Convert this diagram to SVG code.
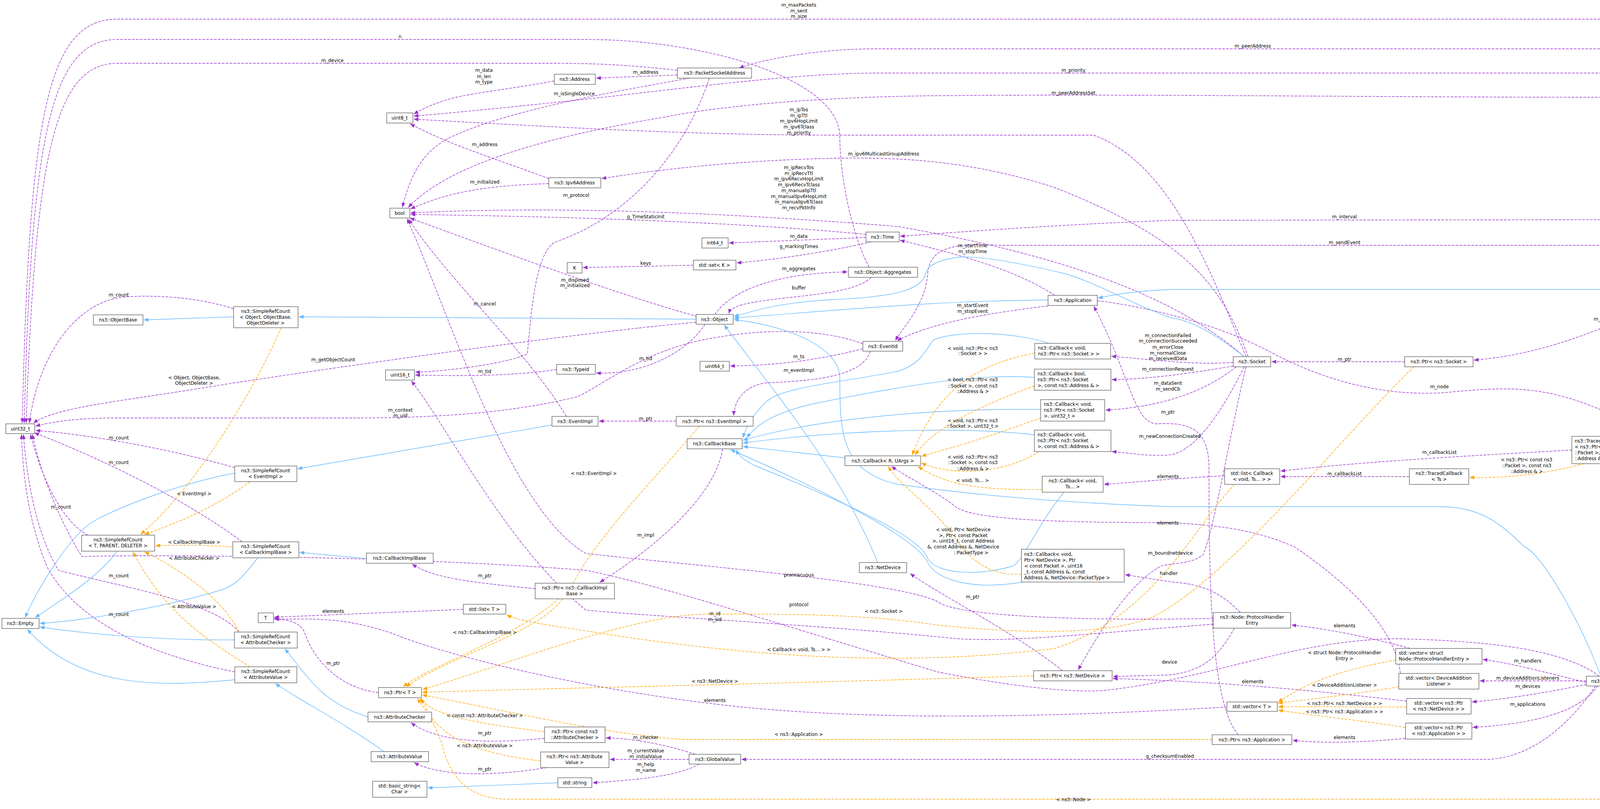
<svg xmlns="http://www.w3.org/2000/svg" width="4491" height="2071" viewBox="0 0 4491 2071">
<style>
text{font-family:"DejaVu Sans","Liberation Sans",Arial,sans-serif;font-size:12px;fill:#000}
.n rect{fill:#fff;stroke:#666;stroke-width:1.4}
.n text,.l{text-anchor:middle}
.n .la{text-anchor:start}
.p,.o,.b{fill:none;stroke-width:1.4}
.p{stroke:#9a32cd;stroke-dasharray:7,3;marker-end:url(#mp)}
.o{stroke:#ffa500;stroke-dasharray:7,3;marker-end:url(#mo)}
.b{stroke:#63b8ff;marker-end:url(#mb)}
</style>
<defs>
<marker id="mp" markerUnits="userSpaceOnUse" markerWidth="12" markerHeight="10" refX="12" refY="5" orient="auto"><path d="M0,0 L12,5 L0,10 z" fill="#9a32cd"/></marker>
<marker id="mo" markerUnits="userSpaceOnUse" markerWidth="12" markerHeight="10" refX="12" refY="5" orient="auto"><path d="M0,0 L12,5 L0,10 z" fill="#ffa500"/></marker>
<marker id="mb" markerUnits="userSpaceOnUse" markerWidth="12" markerHeight="10" refX="12" refY="5" orient="auto"><path d="M0,0 L12,5 L0,10 z" fill="#63b8ff"/></marker>
</defs>
<rect width="4491" height="2071" fill="#fff"/>
<g id="connectors">
<path class="p" d="M4400,549 C4390,250 4340,49 4130,49 L300,49 C120,49 75,300 57,1083"/>
<path class="p" d="M2225,684 C2180,600 2150,450 2150,350 C2150,200 1800,101 1500,101 L300,101 C130,101 80,350 62,1083"/>
<path class="p" d="M1734,180 C1600,165 1520,162 1400,162 L300,162 C140,162 90,400 67,1083"/>
<path class="p" d="M4410,549 C4400,300 4330,125 4200,125 L2240,125 C2100,125 1960,150 1892,174"/>
<path class="p" d="M4390,549 C4370,350 4300,187 4120,187 L2250,187 C2050,187 1800,220 1500,254 C1300,275 1150,290 1059,297"/>
<path class="p" d="M4380,549 C4360,400 4300,249 4120,249 C3500,249 2900,240 2400,245 C2100,248 1850,270 1700,300 C1400,350 1150,420 1045,531"/>
<path class="p" d="M3190,913 C3100,700 3000,420 2800,346 L2150,346 C1800,346 1500,330 1059,305"/>
<path class="p" d="M3195,913 C3120,700 3000,600 2700,480 C2450,400 2250,398 2000,410 C1800,420 1650,440 1540,457"/>
<path class="p" d="M3185,913 C3000,750 2700,650 2300,580 C1800,540 1400,528 1051,545"/>
<path class="p" d="M2217,600 C1900,570 1500,555 1051,549"/>
<path class="p" d="M2217,608 L1866,622"/>
<path class="p" d="M2230,619 C2100,650 1950,668 1886,673"/>
<path class="p" d="M1775,679 L1492,685"/>
<path class="p" d="M1830,805 C1860,760 1950,700 2170,696"/>
<path class="p" d="M2230,710 C2180,760 2000,755 1900,780 C1870,790 1868,795 1866,803"/>
<path class="p" d="M4307,562 L3000,564 C2700,575 2400,598 2304,605"/>
<path class="p" d="M4365,575 C4320,600 4250,628 4130,628 L2560,628 C2450,622 2380,630 2375,700 C2370,780 2310,840 2292,872"/>
<path class="p" d="M2700,756 C2600,690 2450,650 2304,615"/>
<path class="p" d="M2683,783 C2550,800 2400,820 2296,872"/>
<path class="p" d="M4360,575 C4345,700 4200,800 4100,840 C3950,900 3850,915 3773,922"/>
<path class="p" d="M4395,575 C4380,700 4300,850 4142,1113"/>
<path class="p" d="M2809,770 C2900,780 3100,820 3250,900 C3400,980 3550,1015 3700,1005 C3850,990 3950,985 4100,1050 C4300,1150 4380,1500 4393,1729"/>
<path class="p" d="M3157,928 C3050,935 2950,920 2845,912"/>
<path class="p" d="M3157,937 C3050,955 2950,970 2846,972"/>
<path class="p" d="M3165,939 C3100,990 3000,1040 2830,1050"/>
<path class="p" d="M3185,939 C3130,1050 3060,1160 2990,1165 C2930,1168 2900,1160 2846,1156"/>
<path class="p" d="M3170,1881 C3100,1800 3095,1500 3095,1200 C3095,1100 3050,1080 2960,1085 C2900,1080 2890,950 2800,784"/>
<path class="p" d="M3190,939 C3150,1100 3110,1350 3080,1420 C3050,1445 3000,1440 2970,1450 C2940,1470 2880,1500 2760,1715"/>
<path class="p" d="M3175,1568 C3130,1520 3080,1495 3000,1490 L2880,1471"/>
<path class="p" d="M3160,1608 C3120,1680 3080,1720 2990,1728 L2849,1732"/>
<path class="p" d="M3601,1795 C3300,1760 3100,1745 2849,1737"/>
<path class="p" d="M3106,1583 C2800,1590 2450,1580 2400,1540 C2300,1490 1800,1450 1500,1417 C1300,1300 1150,800 1042,560"/>
<path class="p" d="M3106,1598 C2800,1620 2600,1645 2450,1635 C2100,1600 1700,1580 1500,1562 C1300,1400 1150,1100 1053,975"/>
<path class="p" d="M4094,1731 C4000,1660 3800,1640 3570,1635 C3300,1640 3100,1740 2820,1768 C2700,1775 2500,1740 2400,1720 C2000,1600 1700,1500 1500,1460 C1000,1420 300,1420 210,1425 C150,1330 100,1200 83,1112"/>
<path class="p" d="M3141,1810 C2800,1830 2300,1850 1900,1810 C1600,1780 1200,1700 1000,1620 C850,1570 760,1590 702,1583"/>
<path class="p" d="M1186,1560 L702,1580"/>
<path class="p" d="M969,1773 C860,1760 800,1680 780,1620 C770,1595 740,1585 702,1585"/>
<path class="p" d="M1370,1507 C1200,1490 1110,1480 1055,1444"/>
<path class="p" d="M1394,1890 C1250,1905 1120,1900 1052,1850"/>
<path class="p" d="M1400,1965 C1250,1990 1120,1985 1060,1952"/>
<path class="p" d="M1780,1931 C1700,1905 1620,1890 1551,1889"/>
<path class="p" d="M1764,1944 L1561,1944"/>
<path class="p" d="M1790,1956 C1740,1985 1650,1995 1517,2004"/>
<path class="p" d="M4085,1756 C4000,1880 3900,1944 3800,1944 L1898,1944"/>
<path class="p" d="M4313,1743 L4150,1743"/>
<path class="p" d="M4061,1747 C3950,1720 3880,1700 3796,1688"/>
<path class="p" d="M4061,1743 L3788,1743"/>
<path class="p" d="M4061,1752 C3950,1775 3850,1790 3768,1797"/>
<path class="p" d="M4090,1756 C4040,1830 3900,1855 3770,1862"/>
<path class="p" d="M3610,1660 C3500,1630 3400,1610 3306,1600"/>
<path class="p" d="M3598,1890 C3450,1905 3350,1900 3309,1895"/>
<path class="p" d="M1731,1078 L1533,1078"/>
<path class="p" d="M2228,899 C2210,960 2100,975 1960,980 C1900,990 1880,1030 1878,1064"/>
<path class="p" d="M2209,893 C2100,920 2000,935 1869,937"/>
<path class="p" d="M1450,1066 C1350,900 1150,720 1046,561"/>
<path class="p" d="M1785,810 C1600,760 1300,650 1049,558"/>
<path class="p" d="M1805,830 C1760,900 1650,960 1526,955"/>
<path class="p" d="M1425,946 C1300,965 1150,962 1063,960"/>
<path class="p" d="M1816,200 C1750,400 1600,560 1420,620 C1370,650 1360,800 1350,906 C1300,930 1150,950 1063,953"/>
<path class="p" d="M1765,200 C1600,230 1300,280 1150,353 C1080,390 1050,450 1030,531"/>
<path class="p" d="M1734,192 L1526,200"/>
<path class="p" d="M1419,207 C1300,230 1180,240 1130,260 C1100,270 1080,280 1059,292"/>
<path class="p" d="M1405,457 C1250,400 1150,370 1050,317"/>
<path class="p" d="M1405,470 C1250,475 1150,490 1051,535"/>
<path class="p" d="M1782,825 C1500,850 1000,920 600,980 C300,1030 150,1040 85,1083"/>
<path class="p" d="M2209,880 C2100,840 1950,840 1800,870 C1650,900 1550,980 1480,1015 C1300,1060 1100,1070 900,1070 L290,1070 C200,1070 130,1080 91,1091"/>
<path class="p" d="M598,790 C500,760 400,755 320,760 C200,770 100,900 75,1083"/>
<path class="p" d="M601,1197 C400,1140 200,1110 91,1102"/>
<path class="p" d="M620,1387 C450,1260 200,1150 88,1108"/>
<path class="p" d="M225,1370 C150,1330 100,1200 78,1112"/>
<path class="p" d="M612,1618 C550,1540 300,1500 150,1460 C100,1380 70,1250 60,1112"/>
<path class="p" d="M601,1720 C400,1680 200,1600 120,1450 C80,1350 60,1250 55,1112"/>
<path class="p" d="M3135,1218 C3000,1225 2900,1235 2826,1240"/>
<path class="p" d="M3585,1724 C3570,1600 3440,1486 3314,1400 C3200,1350 3100,1345 3000,1338 C2700,1338 2500,1330 2450,1300 C2400,1260 2320,1220 2282,1194"/>
<path class="p" d="M4024,1152 C3800,1165 3500,1180 3278,1206"/>
<path class="p" d="M3608,1220 L3278,1220"/>
<path class="p" d="M2720,1717 C2600,1620 2400,1520 2330,1468"/>
<path class="p" d="M3596,926 L3255,926"/>
<path class="p" d="M1850,1149 C1830,1280 1650,1420 1535,1491"/>
<path class="b" d="M598,811 L368,819"/>
<path class="b" d="M1782,817 L765,811"/>
<path class="b" d="M2683,768 C2400,770 2200,790 1879,814"/>
<path class="b" d="M4384,575 C4330,680 4250,741 4108,741 L3000,741 C2900,745 2850,755 2811,763"/>
<path class="b" d="M3185,913 C3120,860 3050,820 3000,814 C2900,780 2800,720 2724,700 C2600,670 2500,655 2457,658 C2400,665 2375,680 2370,700 C2360,740 2300,760 2131,767 C2000,775 1950,790 1879,810"/>
<path class="b" d="M4098,1731 C4050,1600 3950,1420 3903,1400 C3850,1350 3800,1297 3685,1297 L3000,1297 C2800,1290 2552,1276 2300,1240 C2150,1209 2150,1100 2150,968 C2150,900 2050,840 1879,818"/>
<path class="b" d="M2247,1440 C2150,1200 1980,1000 1854,832"/>
<path class="b" d="M1413,1088 L762,1200"/>
<path class="b" d="M601,1211 C450,1240 300,1300 239,1335 C180,1370 100,1500 64,1581"/>
<path class="b" d="M300,1411 C250,1480 150,1540 90,1581"/>
<path class="b" d="M660,1428 C620,1480 600,1500 564,1511 C400,1560 200,1590 102,1596"/>
<path class="b" d="M938,1430 L767,1414"/>
<path class="b" d="M600,1638 C400,1640 200,1620 102,1605"/>
<path class="b" d="M601,1740 C400,1760 200,1760 70,1611"/>
<path class="b" d="M942,1835 C820,1800 780,1720 729,1661"/>
<path class="b" d="M983,1924 C880,1850 780,1800 705,1750"/>
<path class="b" d="M1428,2004 L1095,2017"/>
<path class="b" d="M2686,879 C2600,850 2450,845 2390,870 C2365,900 2360,930 2300,950 C2150,980 2000,990 1960,1030 C1930,1060 1910,1090 1902,1121"/>
<path class="b" d="M2648,966 C2500,955 2300,990 2100,1030 C2000,1050 1940,1080 1912,1121"/>
<path class="b" d="M2664,1048 C2400,1045 2100,1070 1902,1127"/>
<path class="b" d="M2648,1113 C2500,1095 2200,1095 1902,1134"/>
<path class="b" d="M2163,1172 L1902,1143"/>
<path class="b" d="M2724,1260 C2650,1350 2620,1440 2590,1450 C2500,1475 2400,1470 2375,1430 C2360,1380 2200,1300 1930,1191 C1900,1175 1890,1165 1885,1151"/>
<path class="b" d="M2619,1490 C2500,1510 2400,1490 2375,1440 C2350,1380 2100,1250 1870,1151"/>
<path class="o" d="M720,839 C650,1000 500,1250 360,1368"/>
<path class="o" d="M640,1233 C550,1300 450,1340 370,1368"/>
<path class="o" d="M596,1400 C520,1395 450,1395 398,1397"/>
<path class="o" d="M612,1618 C570,1530 450,1450 370,1413"/>
<path class="o" d="M640,1707 C500,1620 420,1560 340,1413"/>
<path class="o" d="M1440,1533 C1380,1620 1150,1680 1040,1758"/>
<path class="o" d="M1394,1873 C1200,1850 1110,1830 1075,1788"/>
<path class="o" d="M1384,1948 C1150,1920 1120,1860 1068,1788"/>
<path class="o" d="M1790,1091 C1700,1200 1550,1350 1480,1470 C1420,1600 1100,1700 1032,1758"/>
<path class="o" d="M3620,939 C3450,1100 3150,1480 2950,1580 C2800,1640 2500,1610 2400,1600 C2200,1570 2000,1572 1800,1572 C1600,1580 1300,1700 1082,1765"/>
<path class="o" d="M3160,1240 C3050,1360 2950,1580 2700,1660 C2300,1710 1900,1680 1500,1615 C1400,1600 1330,1590 1297,1574"/>
<path class="o" d="M2646,1730 C2000,1750 1500,1760 1081,1772"/>
<path class="o" d="M3103,1893 L1750,1893 C1550,1880 1300,1820 1081,1779"/>
<path class="o" d="M4380,1756 C4300,1950 4200,2046 4100,2046 L1300,2046 C1200,2046 1150,1990 1130,1900 C1110,1850 1090,1810 1078,1788"/>
<path class="o" d="M2649,904 C2450,940 2380,1050 2335,1165"/>
<path class="o" d="M2648,988 C2450,1060 2370,1120 2343,1165"/>
<path class="o" d="M2664,1070 C2500,1130 2420,1150 2359,1168"/>
<path class="o" d="M2660,1156 C2560,1220 2420,1215 2359,1185"/>
<path class="o" d="M2668,1253 C2500,1255 2420,1240 2350,1194"/>
<path class="o" d="M2615,1470 C2530,1475 2480,1430 2440,1370 C2380,1290 2300,1240 2274,1194"/>
<path class="o" d="M4055,1187 C3950,1215 3850,1225 3762,1222"/>
<path class="o" d="M3573,1690 C3400,1720 3330,1760 3272,1797"/>
<path class="o" d="M3581,1758 C3450,1780 3350,1790 3272,1800"/>
<path class="o" d="M3601,1810 L3272,1809"/>
<path class="o" d="M3598,1862 C3450,1840 3350,1830 3272,1818"/>
</g>
<g id="labels">
<text class="l" x="2045" y="17">m_maxPackets</text><text class="l" x="2045" y="32">m_sent</text><text class="l" x="2045" y="46">m_size</text>
<text class="l" x="1024" y="98">n</text>
<text class="l" x="851" y="159">m_device</text>
<text class="l" x="3207" y="122">m_peerAddress</text>
<text class="l" x="1239" y="184">m_data</text><text class="l" x="1239" y="200">m_len</text><text class="l" x="1239" y="214">m_type</text>
<text class="l" x="1653" y="189">m_address</text>
<text class="l" x="2748" y="184">m_priority</text>
<text class="l" x="1470" y="244">m_isSingleDevice</text>
<text class="l" x="2748" y="242">m_peerAddressSet</text>
<text class="l" x="2045" y="285">m_ipTos</text><text class="l" x="2045" y="300">m_ipTtl</text><text class="l" x="2045" y="314">m_ipv6HopLimit</text><text class="l" x="2045" y="329">m_ipv6Tclass</text><text class="l" x="2045" y="344">m_priority</text>
<text class="l" x="1241" y="374">m_address</text>
<text class="l" x="2262" y="398">m_ipv6MulticastGroupAddress</text>
<text class="l" x="2045" y="433">m_ipRecvTos</text><text class="l" x="2045" y="448">m_ipRecvTtl</text><text class="l" x="2045" y="462">m_ipv6RecvHopLimit</text><text class="l" x="2045" y="477">m_ipv6RecvTclass</text><text class="l" x="2045" y="492">m_manualIpTtl</text><text class="l" x="2045" y="507">m_manualIpv6HopLimit</text><text class="l" x="2045" y="521">m_manualIpv6Tclass</text><text class="l" x="2045" y="536">m_recvPktInfo</text>
<text class="l" x="1241" y="470">m_initialized</text>
<text class="l" x="1475" y="504">m_protocol</text>
<text class="l" x="1653" y="559">g_TimeStaticInit</text>
<text class="l" x="3442" y="559">m_interval</text>
<text class="l" x="2045" y="609">m_data</text>
<text class="l" x="3442" y="625">m_sendEvent</text>
<text class="l" x="2045" y="635">g_markingTimes</text>
<text class="l" x="2490" y="633">m_startTime</text><text class="l" x="2490" y="648">m_stopTime</text>
<text class="l" x="1653" y="678">keys</text>
<text class="l" x="2045" y="692">m_aggregates</text>
<text class="l" x="1472" y="721">m_disposed</text><text class="l" x="1472" y="735">m_initialized</text>
<text class="l" x="2045" y="741">buffer</text>
<text class="l" x="304" y="759">m_count</text>
<text class="l" x="1241" y="782">m_cancel</text>
<text class="l" x="2490" y="786">m_startEvent</text><text class="l" x="2490" y="801">m_stopEvent</text>
<text class="l" x="4108" y="821">m_socket</text>
<text class="l" x="2990" y="863">m_connectionFailed</text><text class="l" x="2990" y="877">m_connectionSucceeded</text><text class="l" x="2990" y="893">m_errorClose</text><text class="l" x="2990" y="908">m_normalClose</text><text class="l" x="2990" y="922">m_receivedData</text>
<text class="l" x="4249" y="889">m_txTrace</text>
<text class="l" x="2490" y="896">&lt; void, ns3::Ptr&lt; ns3</text><text class="l" x="2490" y="909">::Socket &gt; &gt;</text>
<text class="l" x="2045" y="917">m_ts</text>
<text class="l" x="1653" y="922">m_tid</text>
<text class="l" x="3442" y="924">m_ptr</text>
<text class="l" x="853" y="925">m_getObjectCount</text>
<text class="l" x="2990" y="949">m_connectionRequest</text>
<text class="l" x="2045" y="952">m_eventImpl</text>
<text class="l" x="1241" y="955">m_tid</text>
<text class="l" x="497" y="971">&lt; Object, ObjectBase,</text><text class="l" x="497" y="985">ObjectDeleter &gt;</text>
<text class="l" x="2490" y="976">&lt; bool, ns3::Ptr&lt; ns3</text><text class="l" x="2490" y="992">::Socket &gt;, const ns3</text><text class="l" x="2490" y="1006">::Address &amp; &gt;</text>
<text class="l" x="2990" y="985">m_dataSent</text><text class="l" x="2990" y="1000">m_sendCb</text>
<text class="l" x="3685" y="994">m_node</text>
<text class="l" x="1025" y="1054">m_context</text><text class="l" x="1025" y="1068">m_uid</text>
<text class="l" x="2990" y="1059">m_ptr</text>
<text class="l" x="1653" y="1076">m_ptr</text>
<text class="l" x="2490" y="1081">&lt; void, ns3::Ptr&lt; ns3</text><text class="l" x="2490" y="1095">::Socket &gt;, uint32_t &gt;</text>
<text class="l" x="2995" y="1121">m_newConnectionCreated</text>
<text class="l" x="304" y="1125">m_count</text>
<text class="l" x="3685" y="1162">m_callbackList</text>
<text class="l" x="2490" y="1174">&lt; void, ns3::Ptr&lt; ns3</text><text class="l" x="2490" y="1188">::Socket &gt;, const ns3</text><text class="l" x="2490" y="1204">::Address &amp; &gt;</text>
<text class="l" x="3908" y="1181">&lt; ns3::Ptr&lt; const ns3</text><text class="l" x="3908" y="1196">::Packet &gt;, const ns3</text><text class="l" x="3908" y="1211">::Address &amp; &gt;</text>
<text class="l" x="304" y="1188">m_count</text>
<text class="l" x="1520" y="1216">&lt; ns3::EventImpl &gt;</text>
<text class="l" x="3442" y="1217">m_callbackList</text>
<text class="l" x="2990" y="1224">elements</text>
<text class="l" x="2490" y="1234">&lt; void, Ts... &gt;</text>
<text class="l" x="497" y="1268">&lt; EventImpl &gt;</text>
<text class="l" x="156" y="1302">m_count</text>
<text class="l" x="2990" y="1343">elements</text>
<text class="l" x="2466" y="1360">&lt; void, Ptr&lt; NetDevice</text><text class="l" x="2466" y="1375">&gt;, Ptr&lt; const Packet</text><text class="l" x="2466" y="1389">&gt;, uint16_t, const Address</text><text class="l" x="2466" y="1404">&amp;, const Address &amp;, NetDevice</text><text class="l" x="2486" y="1419">::PacketType &gt;</text>
<text class="l" x="1653" y="1374">m_impl</text>
<text class="l" x="497" y="1392">&lt; CallbackImplBase &gt;</text>
<text class="l" x="2996" y="1420">m_boundnetdevice</text>
<text class="l" x="497" y="1433">&lt; AttributeChecker &gt;</text>
<text class="l" x="2992" y="1472">handler</text>
<text class="l" x="2045" y="1476">promiscuous</text>
<text class="l" x="304" y="1478">m_count</text>
<text class="l" x="1241" y="1478">m_ptr</text>
<text class="l" x="2490" y="1532">m_ptr</text>
<text class="l" x="2045" y="1552">protocol</text>
<text class="l" x="497" y="1557">&lt; AttributeValue &gt;</text>
<text class="l" x="853" y="1569">elements</text>
<text class="l" x="2262" y="1569">&lt; ns3::Socket &gt;</text>
<text class="l" x="1830" y="1575">m_id</text><text class="l" x="1830" y="1590">m_sid</text>
<text class="l" x="304" y="1577">m_count</text>
<text class="l" x="3442" y="1606">elements</text>
<text class="l" x="1241" y="1623">&lt; ns3::CallbackImplBase &gt;</text>
<text class="l" x="2045" y="1667">&lt; Callback&lt; void, Ts... &gt; &gt;</text>
<text class="l" x="3442" y="1675">&lt; struct Node::ProtocolHandler</text><text class="l" x="3442" y="1690">Entry &gt;</text>
<text class="l" x="3911" y="1696">m_handlers</text>
<text class="l" x="2994" y="1699">device</text>
<text class="l" x="853" y="1702">m_ptr</text>
<text class="l" x="3911" y="1740">m_deviceAdditionListeners</text>
<text class="l" x="4249" y="1740">m_ptr</text>
<text class="l" x="1830" y="1748">&lt; ns3::NetDevice &gt;</text>
<text class="l" x="3207" y="1749">elements</text>
<text class="l" x="3442" y="1758">&lt; DeviceAdditionListener &gt;</text>
<text class="l" x="3911" y="1761">m_devices</text>
<text class="l" x="1830" y="1797">elements</text>
<text class="l" x="3442" y="1805">&lt; ns3::Ptr&lt; ns3::NetDevice &gt; &gt;</text>
<text class="l" x="3911" y="1807">m_applications</text>
<text class="l" x="3442" y="1826">&lt; ns3::Ptr&lt; ns3::Application &gt; &gt;</text>
<text class="l" x="1241" y="1836">&lt; const ns3::AttributeChecker &gt;</text>
<text class="l" x="1241" y="1881">m_ptr</text>
<text class="l" x="2045" y="1884">&lt; ns3::Application &gt;</text>
<text class="l" x="1653" y="1892">m_checker</text>
<text class="l" x="3442" y="1892">elements</text>
<text class="l" x="1241" y="1913">&lt; ns3::AttributeValue &gt;</text>
<text class="l" x="1653" y="1926">m_currentValue</text><text class="l" x="1653" y="1941">m_initialValue</text>
<text class="l" x="2995" y="1940">g_checksumEnabled</text>
<text class="l" x="1653" y="1961">m_help</text><text class="l" x="1653" y="1976">m_name</text>
<text class="l" x="1241" y="1973">m_ptr</text>
<text class="l" x="2748" y="2051">&lt; ns3::Node &gt;</text>
</g>
<g id="psc" class="n"><rect x="4307" y="549" width="178" height="26" style="fill:#999"/><text x="4396" y="566">ns3::PacketSocketClient</text></g>
<g id="psa" class="n"><rect x="1734" y="174" width="190" height="26"/><text x="1829" y="191">ns3::PacketSocketAddress</text></g>
<g id="addr" class="n"><rect x="1419" y="190" width="105" height="26"/><text x="1471" y="207">ns3::Address</text></g>
<g id="u8" class="n"><rect x="990" y="289" width="67" height="26"/><text x="1023" y="306">uint8_t</text></g>
<g id="ipv6" class="n"><rect x="1405" y="455" width="133" height="26"/><text x="1471" y="472">ns3::Ipv6Address</text></g>
<g id="bool" class="n"><rect x="998" y="533" width="51" height="25"/><text x="1023" y="550">bool</text></g>
<g id="K" class="n"><rect x="1452" y="672" width="38" height="27"/><text x="1471" y="690">K</text></g>
<g id="time" class="n"><rect x="2217" y="594" width="85" height="25"/><text x="2259" y="611">ns3::Time</text></g>
<g id="i64" class="n"><rect x="1797" y="609" width="67" height="26"/><text x="1830" y="626">int64_t</text></g>
<g id="set" class="n"><rect x="1775" y="666" width="109" height="25"/><text x="1829" y="683">std::set&lt; K &gt;</text></g>
<g id="agg" class="n"><rect x="2172" y="684" width="177" height="26"/><text x="2260" y="701">ns3::Object::Aggregates</text></g>
<g id="objbase" class="n"><rect x="239" y="806" width="127" height="26"/><text x="302" y="823">ns3::ObjectBase</text></g>
<g id="srcobj" class="n"><rect x="598" y="785" width="165" height="54"/><text x="680" y="801">ns3::SimpleRefCount</text><text x="680" y="816">&lt; Object, ObjectBase,</text><text x="680" y="831">ObjectDeleter &gt;</text></g>
<g id="u32" class="n"><rect x="15" y="1085" width="74" height="25"/><text x="52" y="1102">uint32_t</text></g>
<g id="u16" class="n"><rect x="987" y="947" width="74" height="26"/><text x="1024" y="964">uint16_t</text></g>
<g id="typeid" class="n"><rect x="1425" y="933" width="99" height="25"/><text x="1474" y="950">ns3::TypeId</text></g>
<g id="eventimpl" class="n"><rect x="1413" y="1066" width="118" height="25"/><text x="1472" y="1083">ns3::EventImpl</text></g>
<g id="srcev" class="n"><rect x="601" y="1193" width="159" height="40"/><text x="680" y="1209">ns3::SimpleRefCount</text><text x="680" y="1224">&lt; EventImpl &gt;</text></g>
<g id="srct" class="n"><rect x="209" y="1370" width="187" height="41"/><text x="302" y="1386">ns3::SimpleRefCount</text><text x="302" y="1401">&lt; T, PARENT, DELETER &gt;</text></g>
<g id="srccb" class="n"><rect x="596" y="1387" width="169" height="41"/><text x="680" y="1403">ns3::SimpleRefCount</text><text x="680" y="1418">&lt; CallbackImplBase &gt;</text></g>
<g id="empty" class="n"><rect x="5" y="1583" width="95" height="26"/><text x="52" y="1600">ns3::Empty</text></g>
<g id="cbimpl" class="n"><rect x="938" y="1416" width="171" height="26"/><text x="1023" y="1433">ns3::CallbackImplBase</text></g>
<g id="T" class="n"><rect x="661" y="1569" width="39" height="25"/><text x="680" y="1586">T</text></g>
<g id="listT" class="n"><rect x="1186" y="1547" width="109" height="25"/><text x="1240" y="1564">std::list&lt; T &gt;</text></g>
<g id="srcac" class="n"><rect x="600" y="1618" width="161" height="41"/><text x="680" y="1634">ns3::SimpleRefCount</text><text x="680" y="1649">&lt; AttributeChecker &gt;</text></g>
<g id="srcav" class="n"><rect x="601" y="1707" width="159" height="41"/><text x="680" y="1723">ns3::SimpleRefCount</text><text x="680" y="1738">&lt; AttributeValue &gt;</text></g>
<g id="ptrT" class="n"><rect x="969" y="1760" width="110" height="26"/><text x="1024" y="1777">ns3::Ptr&lt; T &gt;</text></g>
<g id="ac" class="n"><rect x="942" y="1823" width="163" height="25"/><text x="1023" y="1840">ns3::AttributeChecker</text></g>
<g id="av" class="n"><rect x="950" y="1924" width="147" height="26"/><text x="1023" y="1941">ns3::AttributeValue</text></g>
<g id="bstr" class="n"><rect x="954" y="2000" width="139" height="41"/><text x="1023" y="2016">std::basic_string&lt;</text><text x="1023" y="2031">Char &gt;</text></g>
<g id="ptrcb" class="n"><rect x="1370" y="1493" width="203" height="40"/><text x="1471" y="1509">ns3::Ptr&lt; ns3::CallbackImpl</text><text x="1471" y="1524">Base &gt;</text></g>
<g id="ptrcac" class="n"><rect x="1394" y="1861" width="155" height="40"/><text x="1471" y="1877">ns3::Ptr&lt; const ns3</text><text x="1471" y="1892">::AttributeChecker &gt;</text></g>
<g id="ptrav" class="n"><rect x="1384" y="1925" width="175" height="40"/><text x="1471" y="1941">ns3::Ptr&lt; ns3::Attribute</text><text x="1471" y="1956">Value &gt;</text></g>
<g id="str" class="n"><rect x="1428" y="1991" width="87" height="25"/><text x="1471" y="2008">std::string</text></g>
<g id="obj" class="n"><rect x="1782" y="805" width="95" height="25"/><text x="1829" y="822">ns3::Object</text></g>
<g id="app" class="n"><rect x="2683" y="756" width="126" height="26"/><text x="2746" y="773">ns3::Application</text></g>
<g id="eventid" class="n"><rect x="2209" y="874" width="102" height="25"/><text x="2260" y="891">ns3::EventId</text></g>
<g id="u64" class="n"><rect x="1792" y="925" width="75" height="25"/><text x="1829" y="942">uint64_t</text></g>
<g id="ptrev" class="n"><rect x="1731" y="1066" width="197" height="25"/><text x="1829" y="1083">ns3::Ptr&lt; ns3::EventImpl &gt;</text></g>
<g id="cbbase" class="n"><rect x="1759" y="1123" width="141" height="26"/><text x="1829" y="1140">ns3::CallbackBase</text></g>
<g id="cbR" class="n"><rect x="2163" y="1167" width="194" height="25"/><text x="2260" y="1184">ns3::Callback&lt; R, UArgs &gt;</text></g>
<g id="cb1" class="n"><rect x="2649" y="879" width="194" height="40"/><text class="la" x="2657" y="895">ns3::Callback&lt; void,</text><text class="la" x="2657" y="910">ns3::Ptr&lt; ns3::Socket &gt; &gt;</text></g>
<g id="cb2" class="n"><rect x="2648" y="945" width="196" height="54"/><text class="la" x="2656" y="961">ns3::Callback&lt; bool,</text><text class="la" x="2656" y="976">ns3::Ptr&lt; ns3::Socket</text><text class="la" x="2656" y="991">&gt;, const ns3::Address &amp; &gt;</text></g>
<g id="cb3" class="n"><rect x="2664" y="1023" width="164" height="55"/><text class="la" x="2672" y="1039">ns3::Callback&lt; void,</text><text class="la" x="2672" y="1054">ns3::Ptr&lt; ns3::Socket</text><text class="la" x="2672" y="1069">&gt;, uint32_t &gt;</text></g>
<g id="cb4" class="n"><rect x="2648" y="1101" width="196" height="55"/><text class="la" x="2656" y="1117">ns3::Callback&lt; void,</text><text class="la" x="2656" y="1132">ns3::Ptr&lt; ns3::Socket</text><text class="la" x="2656" y="1147">&gt;, const ns3::Address &amp; &gt;</text></g>
<g id="cb5" class="n"><rect x="2668" y="1219" width="156" height="41"/><text x="2746" y="1235">ns3::Callback&lt; void,</text><text x="2746" y="1250">Ts... &gt;</text></g>
<g id="socket" class="n"><rect x="3157" y="913" width="96" height="26"/><text x="3205" y="930">ns3::Socket</text></g>
<g id="ptrsock" class="n"><rect x="3596" y="913" width="175" height="26"/><text x="3683" y="930">ns3::Ptr&lt; ns3::Socket &gt;</text></g>
<g id="traced" class="n"><rect x="4024" y="1117" width="162" height="70"/><text class="la" x="4031" y="1133">ns3::TracedCallback</text><text class="la" x="4031" y="1148">&lt; ns3::Ptr&lt; const ns3</text><text class="la" x="4031" y="1163">::Packet &gt;, const ns3</text><text class="la" x="4031" y="1178">::Address &amp; &gt;</text></g>
<g id="listcb" class="n"><rect x="3135" y="1200" width="141" height="40"/><text x="3205" y="1216">std::list&lt; Callback</text><text x="3205" y="1231">&lt; void, Ts... &gt; &gt;</text></g>
<g id="tracedTs" class="n"><rect x="3608" y="1200" width="152" height="40"/><text x="3684" y="1216">ns3::TracedCallback</text><text x="3684" y="1231">&lt; Ts &gt;</text></g>
<g id="netdev" class="n"><rect x="2200" y="1440" width="121" height="26"/><text x="2260" y="1457">ns3::NetDevice</text></g>
<g id="cbnd" class="n"><rect x="2615" y="1406" width="263" height="84"/><text class="la" x="2622" y="1423">ns3::Callback&lt; void,</text><text class="la" x="2622" y="1438"> Ptr&lt; NetDevice &gt;, Ptr</text><text class="la" x="2622" y="1453">&lt; const Packet &gt;, uint16</text><text class="la" x="2622" y="1468">_t, const Address &amp;, const</text><text class="la" x="2622" y="1483"> Address &amp;, NetDevice::PacketType &gt;</text></g>
<g id="ptrnd" class="n"><rect x="2646" y="1717" width="201" height="26"/><text x="2746" y="1734">ns3::Ptr&lt; ns3::NetDevice &gt;</text></g>
<g id="gv" class="n"><rect x="1764" y="1931" width="132" height="25"/><text x="1830" y="1948">ns3::GlobalValue</text></g>
<g id="phe" class="n"><rect x="3106" y="1568" width="198" height="40"/><text x="3205" y="1584">ns3::Node::ProtocolHandler</text><text x="3205" y="1599">Entry</text></g>
<g id="vphe" class="n"><rect x="3573" y="1660" width="221" height="40"/><text class="la" x="3581" y="1676">std::vector&lt; struct</text><text class="la" x="3581" y="1691">Node::ProtocolHandlerEntry &gt;</text></g>
<g id="vdal" class="n"><rect x="3581" y="1724" width="205" height="40"/><text x="3683" y="1740">std::vector&lt; DeviceAddition</text><text x="3683" y="1755">Listener &gt;</text></g>
<g id="vT" class="n"><rect x="3141" y="1797" width="129" height="24"/><text x="3205" y="1813">std::vector&lt; T &gt;</text></g>
<g id="vnd" class="n"><rect x="3601" y="1788" width="165" height="40"/><text x="3683" y="1804">std::vector&lt; ns3::Ptr</text><text x="3683" y="1819">&lt; ns3::NetDevice &gt; &gt;</text></g>
<g id="vapp" class="n"><rect x="3598" y="1851" width="170" height="41"/><text x="3683" y="1867">std::vector&lt; ns3::Ptr</text><text x="3683" y="1882">&lt; ns3::Application &gt; &gt;</text></g>
<g id="ptrapp" class="n"><rect x="3103" y="1881" width="204" height="25"/><text x="3205" y="1898">ns3::Ptr&lt; ns3::Application &gt;</text></g>
<g id="node" class="n"><rect x="4061" y="1731" width="87" height="25"/><text x="4104" y="1748">ns3::Node</text></g>
<g id="ptrnode" class="n"><rect x="4313" y="1731" width="166" height="25"/><text x="4396" y="1748">ns3::Ptr&lt; ns3::Node &gt;</text></g>
</svg>
